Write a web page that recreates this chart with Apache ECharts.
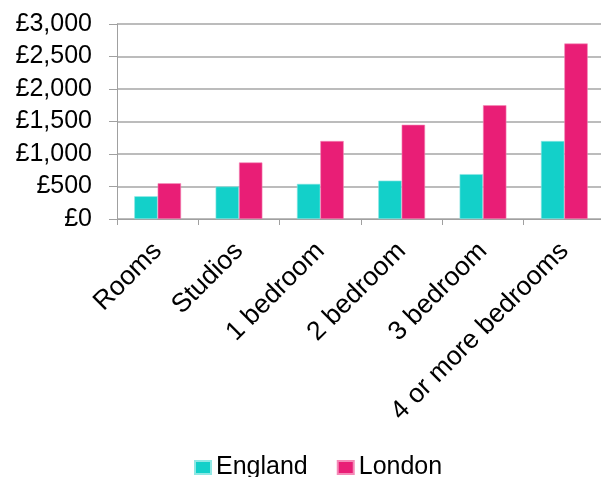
<!DOCTYPE html>
<html>
<head>
<meta charset="utf-8">
<script src="https://cdn.jsdelivr.net/npm/echarts@6/dist/echarts.min.js"></script>
<style>
  html, body { margin: 0; padding: 0; background: #fff; }
  #chart { width: 601px; height: 477px; }
</style>
</head>
<body>
<div id="chart"></div>
<script>
// Average monthly private rent by property size
const categories = ['Rooms', 'Studios', '1 bedroom', '2 bedroom', '3 bedroom', '4 or more bedrooms'];
const englandRent = [350, 500, 540, 590, 690, 1200];
const londonRent = [550, 870, 1200, 1450, 1750, 2700];
const seriesNames = ['England', 'London'];
const yTicks = { min: 0, max: 3000, interval: 500 };

const FONT = 'Liberation Sans, Arial, sans-serif';
const FONT_SIZE = 25;
const TEAL = '#13D0C9';
const PINK = '#E91E76';

function pounds(v) {
  return '£' + v.toString().replace(/\B(?=(\d{3})+(?!\d))/g, ',');
}

const chart = echarts.init(document.getElementById('chart'), null, { renderer: 'canvas' });
chart.setOption({
  animation: false,
  textStyle: { fontFamily: FONT },
  // plot area runs slightly past the right edge of the canvas
  grid: { left: 117, top: 24, width: 488, height: 195, containLabel: false, outerBoundsMode: 'none' },
  legend: {
    data: seriesNames,
    top: 450,
    left: 189,
    icon: 'rect',
    itemWidth: 16,
    itemHeight: 13,
    itemGap: 29,
    textStyle: { fontFamily: FONT, fontSize: FONT_SIZE, color: '#000', padding: [0, 0, 0, 0] }
  },
  xAxis: {
    type: 'category',
    data: categories,
    axisLine: { lineStyle: { color: '#a0a0a0', width: 1 } },
    axisTick: { show: true, length: 6, alignWithLabel: false, lineStyle: { color: '#a0a0a0' } },
    splitLine: { show: false },
    axisLabel: {
      interval: 0,
      rotate: 45,
      margin: 28,
      fontFamily: FONT,
      fontSize: 26.5,
      color: '#000'
    }
  },
  yAxis: {
    type: 'value',
    min: yTicks.min,
    max: yTicks.max,
    interval: yTicks.interval,
    axisLine: { show: true, lineStyle: { color: '#a0a0a0', width: 1 } },
    axisTick: { show: true, length: 8, lineStyle: { color: '#a0a0a0' } },
    splitLine: { show: true, lineStyle: { color: '#a6a6a6', width: 1.5 } },
    axisLabel: {
      margin: 25,
      fontFamily: FONT,
      fontSize: FONT_SIZE,
      color: '#000',
      formatter: pounds
    }
  },
  series: [
    {
      name: seriesNames[0],
      type: 'bar',
      data: englandRent,
      barGap: '0%',
      barCategoryGap: '42.5%',
      itemStyle: { color: TEAL, borderColor: '#8fe8e4', borderWidth: 0.6 }
    },
    {
      name: seriesNames[1],
      type: 'bar',
      data: londonRent,
      barGap: '0%',
      barCategoryGap: '42.5%',
      itemStyle: { color: PINK, borderColor: '#f48ab7', borderWidth: 0.6 }
    }
  ]
});
</script>
</body>
</html>
